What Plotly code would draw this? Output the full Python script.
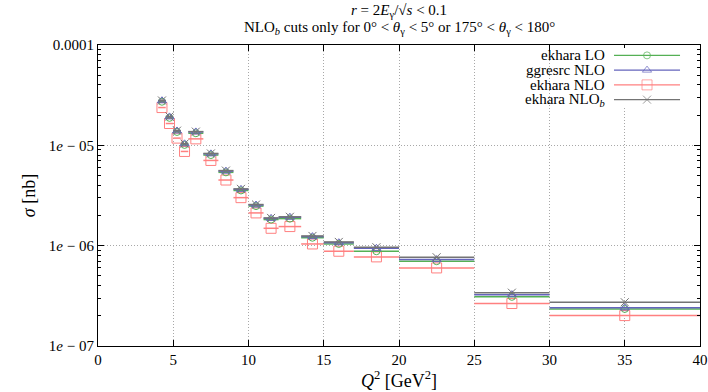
import plotly.graph_objects as go

# Q^2 bins [GeV^2]
bin_lo = [4, 4.5, 5, 5.5, 6, 7, 8, 9, 10, 11, 12, 13.5, 15, 17, 20, 25, 30]
bin_hi = [4.5, 5, 5.5, 6, 7, 8, 9, 10, 11, 12, 13.5, 15, 17, 20, 25, 30, 40]

# cross sections [nb]
ekhara_lo = [2.72e-5, 1.88e-5, 1.36e-5, 1.01e-5, 1.32e-5, 8.0e-6, 5.38e-6, 3.55e-6,
             2.48e-6, 1.82e-6, 1.86e-6, 1.20e-6, 1.04e-6, 8.8e-7, 7.0e-7, 3.09e-7, 2.34e-7]
ggresrc_nlo = [2.78e-5, 1.92e-5, 1.39e-5, 1.035e-5, 1.36e-5, 8.22e-6, 5.53e-6, 3.64e-6,
               2.54e-6, 1.87e-6, 1.92e-6, 1.23e-6, 1.07e-6, 9.4e-7, 7.26e-7, 3.25e-7, 2.40e-7]
ekhara_nlo = [2.38e-5, 1.65e-5, 1.18e-5, 8.69e-6, 1.16e-5, 7.07e-6, 4.51e-6, 3.01e-6,
              2.12e-6, 1.49e-6, 1.55e-6, 1.04e-6, 8.8e-7, 7.73e-7, 6.0e-7, 2.65e-7, 2.01e-7]
ekhara_nlob = [2.80e-5, 1.94e-5, 1.40e-5, 1.04e-5, 1.37e-5, 8.3e-6, 5.6e-6, 3.68e-6,
               2.57e-6, 1.89e-6, 1.94e-6, 1.25e-6, 1.09e-6, 9.64e-7, 7.67e-7, 3.40e-7, 2.73e-7]

ytick_vals = [1e-7, 1e-6, 1e-5, 1e-4]
ytick_text = ['1<i>e</i> − 07', '1<i>e</i> − 06', '1<i>e</i> − 05', '0.0001']

legend_names = ['ekhara LO', 'ggresrc NLO', 'ekhara NLO', 'ekhara NLO<sub><i>b</i></sub>']

title_lines = [
    '<i>r</i> = 2<i>E</i><sub>γ</sub>/√<i>s</i> &lt; 0.1',
    'NLO<sub><i>b</i></sub> cuts only for 0° &lt; <i>θ</i><sub>γ</sub> &lt; 5° '
    'or 175° &lt; <i>θ</i><sub>γ</sub> &lt; 180°',
]

centers = [(a + b) / 2 for a, b in zip(bin_lo, bin_hi)]
half = [(b - a) / 2 for a, b in zip(bin_lo, bin_hi)]

FONT = 'Liberation Serif'
C_LO, C_GG, C_NLO, C_NLOB = '#55b055', '#6464bc', '#ff8080', '#747474'

styles = {
    'ekhara LO': (ekhara_lo, C_LO, 'circle-open', 7),
    'ggresrc NLO': (ggresrc_nlo, C_GG, 'triangle-up-open', 8),
    'ekhara NLO': (ekhara_nlo, C_NLO, 'square-open', 10),
    'ekhara NLO<sub><i>b</i></sub>': (ekhara_nlob, C_NLOB, 'x-thin-open', 8),
}

fig = go.Figure()

# draw order: red underneath, gray on top
for name in ['ekhara NLO', 'ekhara LO', 'ggresrc NLO', 'ekhara NLO<sub><i>b</i></sub>']:
    y, color, symbol, size = styles[name]
    fig.add_trace(go.Scatter(
        x=centers, y=y, name=name, mode='markers', showlegend=False,
        marker=dict(symbol=symbol, size=size, color=color,
                    line=dict(color=color, width=1)),
        error_x=dict(type='data', array=half, arrayminus=half, symmetric=False,
                     width=0, thickness=1.5, color=color),
    ))

# gnuplot-style key: text right-aligned, sample line + point on the right
for i, name in enumerate(legend_names):
    y, color, symbol, size = styles[name]
    row = 3.5 - i
    fig.add_trace(go.Scatter(
        x=[0, 1, 2], y=[row] * 3, mode='lines+markers', showlegend=False,
        xaxis='x2', yaxis='y2', hoverinfo='skip',
        line=dict(color=color, width=1.3),
        marker=dict(symbol=symbol, size=[0, size, 0], color=color,
                    line=dict(color=color, width=1)),
    ))
    fig.add_annotation(text=name, xref='paper', yref='y2', x=0.8455, y=row,
                       xanchor='right', yanchor='middle', showarrow=False,
                       font=dict(family=FONT, size=15))

# two-line title
for line, ypos in zip(title_lines, [1.113, 1.055]):
    fig.add_annotation(text=line, xref='paper', yref='paper', x=0.5, y=ypos,
                       xanchor='center', yanchor='middle', showarrow=False,
                       font=dict(family=FONT, size=15))

axis_common = dict(
    showline=True, linecolor='black', linewidth=1, mirror='ticks',
    ticks='inside', ticklen=6, tickcolor='black',
    showgrid=True, gridcolor='#a8a8a8', griddash='1px,2px', gridwidth=1,
    zeroline=False, automargin=False,
)

fig.update_layout(
    width=708, height=392,
    margin=dict(l=98, r=8, t=45, b=46),
    paper_bgcolor='white', plot_bgcolor='white',
    font=dict(family=FONT, size=15, color='black'),
    showlegend=False,
    xaxis=dict(
        range=[0, 40], dtick=5, tick0=0,
        title=dict(text='<i>Q</i><sup>2</sup> [GeV<sup>2</sup>]', standoff=4),
        **axis_common),
    yaxis=dict(
        type='log', range=[-7, -4],
        tickmode='array', tickvals=ytick_vals, ticktext=ytick_text,
        minor=dict(ticks='inside', ticklen=3, dtick='D1', tickcolor='black',
                   showgrid=False),
        title=dict(text='<i>σ</i> [nb]', standoff=8),
        **axis_common),
    xaxis2=dict(domain=[0.857, 0.967], range=[0, 2], anchor='y2',
                visible=False, fixedrange=True),
    yaxis2=dict(domain=[0.794, 0.99], range=[0, 4], anchor='x2',
                visible=False, fixedrange=True),
)

fig.write_html('out.html', config={'displayModeBar': False},
               post_script="document.body.style.margin='0px';")
